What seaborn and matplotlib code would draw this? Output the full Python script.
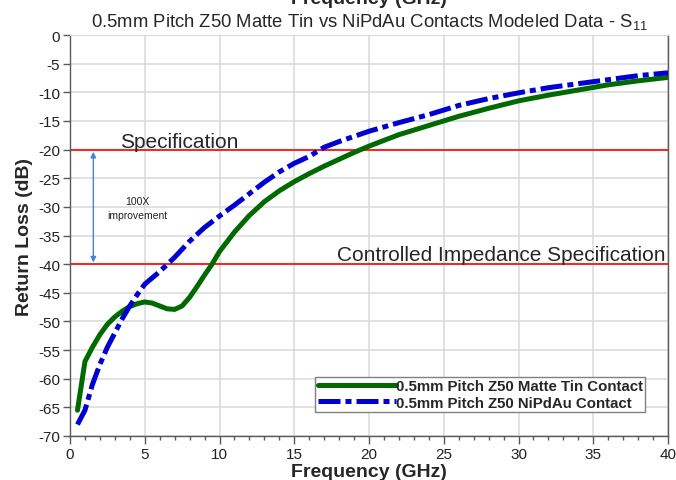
import numpy as np
import pandas as pd
import seaborn as sns
import matplotlib.pyplot as plt
from matplotlib.ticker import MultipleLocator

tin_freq = [0.5, 1, 1.5, 2, 2.5, 3, 3.5, 4, 4.5, 5, 5.5, 6, 6.5, 7, 7.5, 8, 8.5, 9, 9.5, 10,
            11, 12, 13, 14, 15, 16, 17, 18, 19, 20, 22, 24, 26, 28, 30, 32, 34, 36, 38, 40]
tin_loss = [-65.5, -57.0, -54.5, -52.3, -50.5, -49.2, -48.2, -47.4, -46.9, -46.6, -46.8, -47.3,
            -47.8, -47.9, -47.3, -45.8, -43.9, -41.9, -40.0, -37.8, -34.4, -31.5, -29.1, -27.2,
            -25.6, -24.2, -22.9, -21.7, -20.5, -19.4, -17.4, -15.8, -14.2, -12.8, -11.5, -10.5,
            -9.6, -8.7, -8.0, -7.4]

nipdau_freq = [0.5, 1, 1.5, 2, 2.5, 3, 3.5, 4, 4.5, 5, 6, 7, 8, 9, 10, 11, 12, 13, 14, 15, 16,
               17, 18, 19, 20, 22, 24, 26, 28, 30, 32, 34, 36, 38, 40]
nipdau_loss = [-68.0, -65.5, -61.0, -57.5, -54.5, -52.0, -49.5, -47.3, -45.3, -43.5, -41.3,
               -38.8, -36.0, -33.6, -31.6, -29.7, -27.7, -25.7, -23.9, -22.4, -21.2, -19.6,
               -18.6, -17.7, -16.8, -15.3, -13.9, -12.3, -11.1, -10.1, -9.2, -8.5, -7.8, -7.1,
               -6.6]

tin_label = "0.5mm Pitch Z50 Matte Tin Contact"
nipdau_label = "0.5mm Pitch Z50 NiPdAu Contact"
spec_level = -20
ci_spec_level = -40

tin = pd.DataFrame({"freq": tin_freq, "loss": tin_loss})
nipdau = pd.DataFrame({"freq": nipdau_freq, "loss": nipdau_loss})

sns.set_style("whitegrid")
plt.rcParams['font.family'] = ['Liberation Sans', 'DejaVu Sans']
plt.rcParams['mathtext.fontset'] = 'custom'
plt.rcParams['mathtext.rm'] = 'Liberation Sans'
plt.rcParams['mathtext.it'] = 'Liberation Sans'
plt.rcParams['axes.unicode_minus'] = False

fig = plt.figure(figsize=(6.76, 4.81), dpi=100, facecolor='white')
ax = fig.add_axes([70 / 676, 1 - 437 / 481, 598 / 676, 401 / 481])

ax.axhline(spec_level, color='#ee2c2c', lw=1.5, zorder=2)
ax.axhline(ci_spec_level, color='#ee2c2c', lw=1.5, zorder=2)

sns.lineplot(data=tin, x="freq", y="loss", ax=ax, color='#006a00', lw=3.6,
             label=tin_label, zorder=3)
sns.lineplot(data=nipdau, x="freq", y="loss", ax=ax, color='#0000d0', lw=3.6,
             label=nipdau_label, zorder=3)
ax.lines[-1].set_dashes([4.4, 1.0, 1.2, 1.0])
ax.lines[-1].set_dash_capstyle('butt')

ax.set_xlim(0, 40)
ax.set_ylim(-70, 0)
ax.xaxis.set_major_locator(MultipleLocator(5))
ax.xaxis.set_minor_locator(MultipleLocator(1))
ax.yaxis.set_major_locator(MultipleLocator(5))
ax.grid(True, which='major', color='#d9d9d9', lw=1.1)
ax.grid(False, which='minor')
ax.tick_params(axis='both', which='major', direction='out', length=5, width=1,
               color='#595959', labelsize=11, labelcolor='#222222', pad=2)
ax.tick_params(axis='x', which='minor', direction='out', length=3, width=1,
               color='#595959', bottom=True)
ax.tick_params(axis='x', which='major', length=6, bottom=True)
ax.tick_params(axis='y', which='major', left=True)
for side in ['left', 'bottom', 'right']:
    ax.spines[side].set_color('#595959')
    ax.spines[side].set_linewidth(1)
ax.spines['top'].set_color('#d9d9d9')

ax.set_xlabel("Frequency (GHz)", fontsize=14, fontweight='bold')
ax.xaxis.label.set_va('baseline')
ax.xaxis.set_label_coords(0.5, (437 - 477) / 401)
ax.set_ylabel("Return Loss (dB)", fontsize=14, fontweight='bold')
ax.yaxis.set_label_coords(-0.062, 0.5)

# cut-off copy of the axis title at the very top
fig.text(0.546, 1 - 3.5 / 481, "Frequency (GHz)", fontsize=14, fontweight='bold',
         ha='center', va='baseline')
fig.text(0.546, 1 - 27 / 481,
         "0.5mm Pitch Z50 Matte Tin vs NiPdAu Contacts Modeled Data - S$_{11}$",
         fontsize=13.3, ha='center', va='baseline')

ax.text(3.35, -19.5, "Specification", fontsize=15, ha='left', va='baseline', zorder=4)
ax.text(39.85, -39.2, "Controlled Impedance Specification", fontsize=15, ha='right',
        va='baseline', zorder=4)
ax.annotate("", xy=(1.56, -20.4), xytext=(1.56, -39.7),
            arrowprops=dict(arrowstyle='<|-|>', color='#4a7fd4', lw=1,
                            mutation_scale=8, shrinkA=0, shrinkB=0))
ax.text(4.5, -30.2, "100X\nimprovement", fontsize=7.5, ha='center', va='center',
        linespacing=1.4, color='#222222')

leg = ax.legend(loc='lower right', bbox_to_anchor=(0.9615, 0.06), borderaxespad=0,
                prop={'weight': 'bold', 'size': 10.8}, handlelength=5.2, handletextpad=0.0,
                borderpad=0.15, labelspacing=0.15, fancybox=False, framealpha=1,
                edgecolor='#808080')
leg.get_frame().set_linewidth(1)

fig.savefig("out.png", dpi=100)
